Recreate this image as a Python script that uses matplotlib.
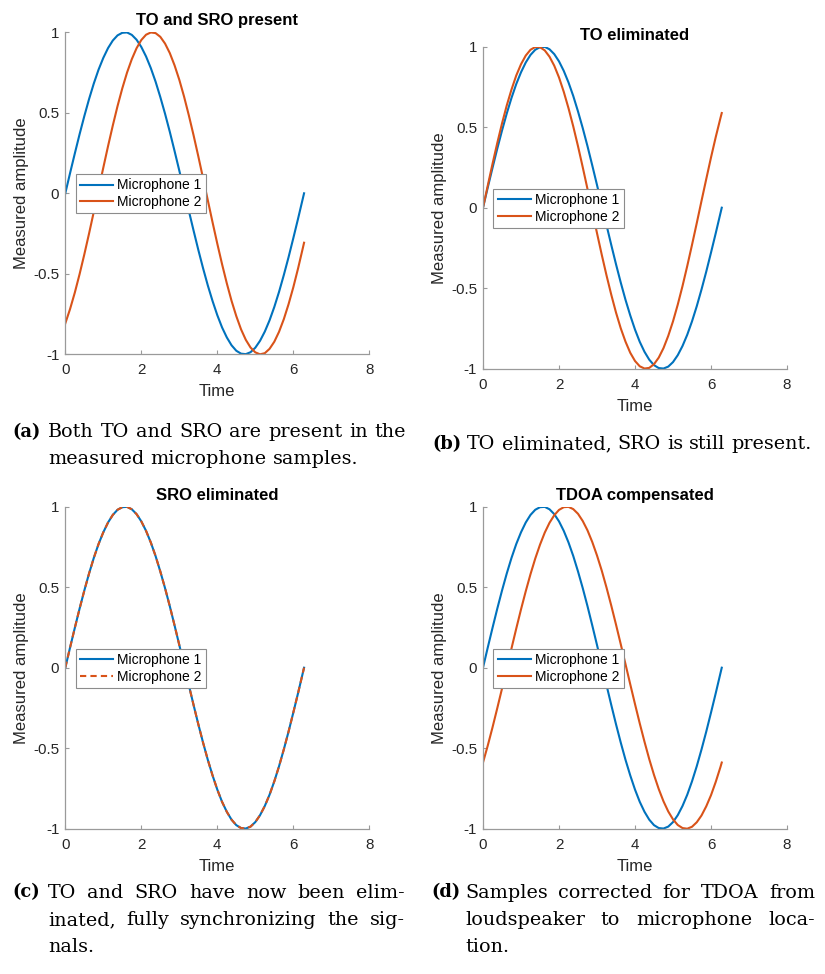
import matplotlib
matplotlib.use('Agg')
from matplotlib import pyplot as plt

time = [0.0, 0.125, 0.25, 0.375, 0.5, 0.625, 0.75, 0.875, 1.0, 1.125, 1.25,
        1.375, 1.5, 1.625, 1.75, 1.875, 2.0, 2.125, 2.25, 2.375, 2.5, 2.625,
        2.75, 2.875, 3.0, 3.125, 3.25, 3.375, 3.5, 3.625, 3.75, 3.875, 4.0,
        4.125, 4.25, 4.375, 4.5, 4.625, 4.75, 4.875, 5.0, 5.125, 5.25, 5.375,
        5.5, 5.625, 5.75, 5.875, 6.0, 6.125, 6.25, 6.283]

# Microphone 1 is the same reference signal in all four panels
mic1 = [0.0, 0.125, 0.247, 0.366, 0.479, 0.585, 0.682, 0.768, 0.841, 0.902,
        0.949, 0.981, 0.997, 0.999, 0.984, 0.954, 0.909, 0.850, 0.778, 0.694,
        0.598, 0.494, 0.382, 0.263, 0.141, 0.017, -0.108, -0.231, -0.351,
        -0.465, -0.572, -0.669, -0.757, -0.833, -0.895, -0.944, -0.978,
        -0.996, -0.999, -0.987, -0.959, -0.916, -0.859, -0.789, -0.706,
        -0.612, -0.508, -0.397, -0.279, -0.158, -0.033, 0.0]

# Microphone 2 for each panel
mic2_a = [-0.808, -0.719, -0.617, -0.503, -0.380, -0.250, -0.115, 0.023, 0.159,
          0.293, 0.421, 0.542, 0.652, 0.750, 0.833, 0.901, 0.952, 0.985, 0.999,
          0.995, 0.972, 0.930, 0.871, 0.795, 0.705, 0.601, 0.485, 0.361, 0.230,
          0.094, -0.043, -0.180, -0.313, -0.440, -0.559, -0.668, -0.763,
          -0.845, -0.910, -0.958, -0.988, -1.000, -0.993, -0.966, -0.922,
          -0.860, -0.782, -0.689, -0.584, -0.467, -0.341, -0.307]
mic2_b = [0.0, 0.137, 0.272, 0.401, 0.523, 0.635, 0.734, 0.821, 0.891, 0.945,
          0.981, 0.998, 0.997, 0.977, 0.938, 0.882, 0.809, 0.720, 0.618, 0.505,
          0.382, 0.251, 0.116, -0.021, -0.158, -0.292, -0.420, -0.540, -0.651,
          -0.749, -0.832, -0.901, -0.952, -0.985, -0.999, -0.995, -0.972,
          -0.931, -0.872, -0.796, -0.706, -0.602, -0.487, -0.362, -0.231,
          -0.096, 0.042, 0.178, 0.312, 0.439, 0.558, 0.588]
mic2_c = [0.0, 0.125, 0.247, 0.366, 0.479, 0.585, 0.682, 0.768, 0.841, 0.902,
          0.949, 0.981, 0.997, 0.999, 0.984, 0.954, 0.909, 0.850, 0.778, 0.694,
          0.598, 0.494, 0.382, 0.263, 0.141, 0.017, -0.108, -0.231, -0.351,
          -0.465, -0.572, -0.669, -0.757, -0.833, -0.895, -0.944, -0.978,
          -0.996, -0.999, -0.987, -0.959, -0.916, -0.859, -0.789, -0.706,
          -0.612, -0.508, -0.397, -0.279, -0.158, -0.033, 0.0]
mic2_d = [-0.589, -0.484, -0.371, -0.252, -0.130, -0.005, 0.120, 0.243, 0.362,
          0.475, 0.581, 0.678, 0.764, 0.839, 0.900, 0.947, 0.980, 0.997, 0.999,
          0.985, 0.956, 0.911, 0.853, 0.781, 0.697, 0.603, 0.498, 0.386, 0.268,
          0.146, 0.022, -0.103, -0.226, -0.346, -0.460, -0.568, -0.666,
          -0.754, -0.830, -0.893, -0.942, -0.977, -0.996, -1.000, -0.988,
          -0.960, -0.918, -0.861, -0.792, -0.709, -0.616, -0.589]

titles = ['TO and SRO present', 'TO eliminated', 'SRO eliminated', 'TDOA compensated']
legend_labels = ['Microphone 1', 'Microphone 2']
x_ticks = [0, 2, 4, 6, 8]
y_ticks = [-1, -0.5, 0, 0.5, 1]
y_tick_labels = ['-1', '-0.5', '0', '0.5', '1']

captions = [
    ('(a)', ['Both TO and SRO are present in the', 'measured microphone samples.']),
    ('(b)', ['TO eliminated, SRO is still present.']),
    ('(c)', ['TO and SRO have now been elim-', 'inated, fully synchronizing the sig-', 'nals.']),
    ('(d)', ['Samples corrected for TDOA from', 'loudspeaker to microphone loca-', 'tion.']),
]

W, H = 825, 974
blue = '#0072BD'
orange = '#D95319'
plt.rcParams['font.family'] = 'Liberation Sans'
plt.rcParams['axes.unicode_minus'] = False

fig = plt.figure(figsize=(W / 100, H / 100), dpi=100)


def box(left, top, right, bottom):
    # pixel box -> figure fraction
    return [left / W, 1 - bottom / H, (right - left) / W, (bottom - top) / H]


axes_boxes = [box(65.3, 32.3, 369.3, 354.3), box(483, 46.7, 787, 368.7),
              box(65.3, 506.7, 369.3, 828.7), box(483, 506.7, 787, 828.7)]
mic2_series = [mic2_a, mic2_b, mic2_c, mic2_d]

for i in range(4):
    ax = fig.add_axes(axes_boxes[i])
    ax.plot(time, mic1, color=blue, lw=1.5, label=legend_labels[0])
    if i == 2:
        ax.plot(time, mic2_series[i], color=orange, lw=1.5, ls=(0, (3, 2)), label=legend_labels[1])
    else:
        ax.plot(time, mic2_series[i], color=orange, lw=1.5, label=legend_labels[1])
    ax.set_xlim(0, 8)
    ax.set_ylim(-1, 1)
    ax.set_xticks(x_ticks)
    ax.set_yticks(y_ticks)
    ax.set_yticklabels(y_tick_labels)
    for side in ['top', 'right']:
        ax.spines[side].set_visible(False)
    for side in ['left', 'bottom']:
        ax.spines[side].set_color('#9a9a9a')
        ax.spines[side].set_linewidth(0.9)
    ax.tick_params(direction='in', length=3, width=0.8, color='#9a9a9a',
                   labelsize=10.9, labelcolor='#262626')
    ax.tick_params(axis='x', pad=6.5)
    ax.tick_params(axis='y', pad=4.3)
    ax.set_title(titles[i], fontsize=12, fontweight='bold', pad=5)
    ax.set_xlabel('Time', fontsize=12, color='#262626', labelpad=5)
    ax.set_ylabel('Measured amplitude', fontsize=12, color='#262626', labelpad=3)
    leg = ax.legend(loc='upper left', bbox_to_anchor=(0.034, 0.559), fontsize=10,
                    borderaxespad=0, borderpad=0.3, labelspacing=0.2,
                    handlelength=2.4, handletextpad=0.3, fancybox=False,
                    framealpha=1, edgecolor='#8c8c8c')
    leg.get_frame().set_linewidth(0.8)

# Captions under each panel, in a serif face, justified like the thesis text
cap_font = 'DejaVu Serif'
cap_size = 13.8
label_size = 12.8
renderer = fig.canvas.get_renderer()
space_px = 0.318 * cap_size * 100 / 72

# label x, text x, right margin, first baseline (pixels)
cap_pos = [(12, 48, 406, 437), (432, 0, 821, 449),
           (12, 48, 405, 897.5), (431, 465, 815, 897.5)]
line_step = 27.5

for (label, lines), (lx, tx, rx, y0) in zip(captions, cap_pos):
    lab = fig.text(lx / W, 1 - y0 / H, label, fontsize=label_size, family=cap_font,
                   fontweight='bold', va='baseline')
    if tx == 0:
        # single-line caption: text follows the label directly
        tx = lx + lab.get_window_extent(renderer).width + space_px
    for j, line in enumerate(lines):
        y = y0 + j * line_step
        words = line.split(' ')
        objs = [fig.text(0, 1 - y / H, w, fontsize=cap_size, family=cap_font,
                         va='baseline') for w in words]
        widths = [o.get_window_extent(renderer).width for o in objs]
        last = j == len(lines) - 1
        if not last and len(words) > 1:
            gap = (rx - tx - sum(widths)) / (len(words) - 1)
        else:
            gap = space_px
        x = tx
        for o, w in zip(objs, widths):
            o.set_x(x / W)
            x += w + gap

fig.savefig('out.png', dpi=100)
